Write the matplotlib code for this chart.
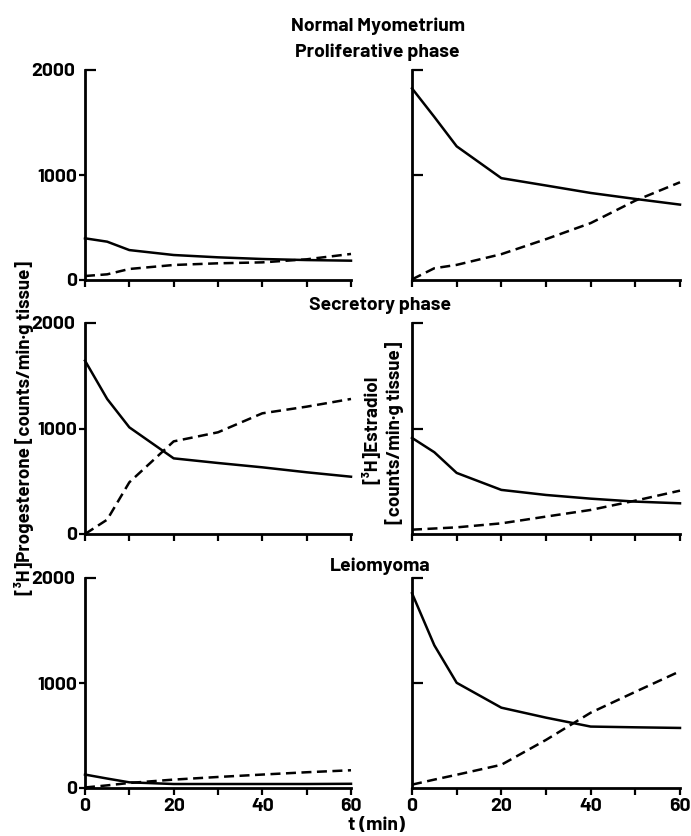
import numpy as np
import matplotlib
matplotlib.use("Agg")
import matplotlib.pyplot as plt

plt.rcParams['font.family'] = ['Barlow', 'Barlow Semi Condensed',
                               'Roboto Condensed', 'DejaVu Sans']
plt.rcParams['font.weight'] = 'bold'

# sampling times (min)
t = [0, 5, 10, 20, 30, 40, 50, 60]

# progesterone, counts/min.g tissue
prog_prolif_solid = [397, 365, 285, 238, 216, 200, 190, 184]
prog_prolif_dash = [38, 54, 105, 143, 159, 168, 197, 248]
prog_secr_solid = [1643, 1280, 1011, 717, 673, 632, 585, 543]
prog_secr_dash = [0, 136, 490, 878, 964, 1144, 1207, 1280]
prog_leio_solid = [128, 90, 54, 38, 38, 38, 38, 40]
prog_leio_dash = [5, 25, 48, 80, 105, 128, 150, 169]

# estradiol, counts/min.g tissue
estr_prolif_solid = [1825, 1553, 1273, 970, 900, 829, 772, 718]
estr_prolif_dash = [6, 112, 144, 246, 389, 542, 756, 931]
estr_secr_solid = [911, 775, 579, 418, 370, 335, 307, 291]
estr_secr_dash = [41, 52, 63, 101, 165, 228, 316, 411]
estr_leio_solid = [1855, 1359, 1002, 765, 670, 585, 578, 572]
estr_leio_dash = [32, 80, 126, 221, 458, 717, 916, 1112]

xticks = [0, 10, 20, 30, 40, 50, 60]
xticklabels = ['0', '', '20', '', '40', '', '60']

W, H = 691, 836
fig = plt.figure(figsize=(W / 100, H / 100), dpi=100)


def px_axes(x0, x1, ytop, ybot):
    return fig.add_axes([x0 / W, 1 - ybot / H, (x1 - x0) / W, (ybot - ytop) / H])


rows = [(70, 280), (323, 534), (578, 788)]
left_data = [(prog_prolif_solid, prog_prolif_dash),
             (prog_secr_solid, prog_secr_dash),
             (prog_leio_solid, prog_leio_dash)]
right_data = [(estr_prolif_solid, estr_prolif_dash),
              (estr_secr_solid, estr_secr_dash),
              (estr_leio_solid, estr_leio_dash)]

for i, (ytop, ybot) in enumerate(rows):
    for side in ('left', 'right'):
        if side == 'left':
            ax = px_axes(85, 351, ytop, ybot)
            solid, dash = left_data[i]
        else:
            ax = px_axes(412, 680, ytop, ybot)
            solid, dash = right_data[i]

        ax.plot(t, solid, color='black', lw=1.8, clip_on=False, zorder=3)
        ax.plot(t, dash, color='black', lw=1.8, ls=(0, (4, 2.2)),
                clip_on=False, zorder=3)

        ax.set_xlim(0, 60)
        ax.set_ylim(0, 2000)
        for s in ('top', 'right'):
            ax.spines[s].set_visible(False)
        for s in ('left', 'bottom'):
            ax.spines[s].set_linewidth(2.0)

        ax.set_xticks(xticks)
        if i == 2:
            ax.set_xticklabels(xticklabels)
        else:
            ax.set_xticklabels([])
        ax.tick_params(axis='x', direction='out', length=5, width=1.6,
                       pad=2, labelsize=14)

        if side == 'left':
            ax.set_yticks([0, 1000])
            ax.set_yticklabels(['0', '1000'])
            ax.set_yticks([2000], minor=True)
            ax.set_yticklabels(['2000'], minor=True)
            ax.tick_params(axis='y', which='major', direction='out',
                           length=4, width=1.6, pad=1.5, labelsize=14)
            ax.tick_params(axis='y', which='minor', direction='in',
                           length=8, width=1.6, pad=7, labelsize=14)
        else:
            ax.set_yticks([1000, 2000])
            ax.set_yticklabels([])
            ax.tick_params(axis='y', direction='in', length=8, width=1.6)


def ftext(x, y, s, size=14, **kw):
    fig.text(x / W, 1 - y / H, s, ha='center', va='center',
             fontsize=size, **kw)


ftext(378, 26, 'Normal Myometrium')
ftext(377, 52, 'Proliferative phase')
ftext(380, 305, 'Secretory phase')
ftext(380, 566, 'Leiomyoma')
ftext(376, 826, 't (min)')

ftext(24, 428, '[³H]Progesterone [counts/min·g tissue]', size=13.5, rotation=90)
ftext(372, 430, '[³H]Estradiol', size=13.5, rotation=90)
ftext(395, 433, '[counts/min·g tissue]', size=13.5, rotation=90)

fig.savefig('out.png', dpi=100)
